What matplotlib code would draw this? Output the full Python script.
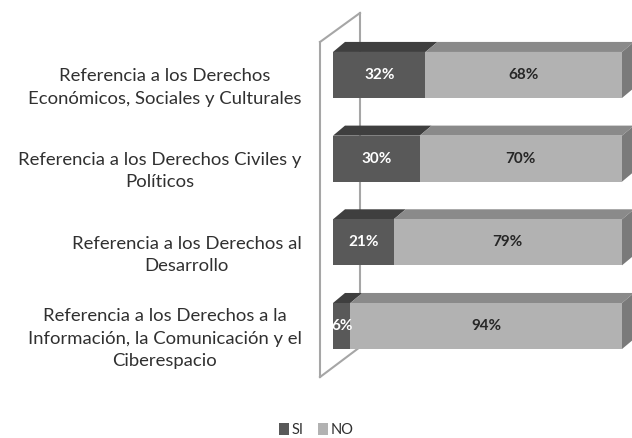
import matplotlib
matplotlib.use("Agg")
import matplotlib.pyplot as plt
from matplotlib.patches import Polygon
from matplotlib.lines import Line2D

categories = [
    "Referencia a los Derechos\nEconómicos, Sociales y Culturales",
    "Referencia a los Derechos Civiles y\nPolíticos",
    "Referencia a los Derechos al\nDesarrollo",
    "Referencia a los Derechos a la\nInformación, la Comunicación y el\nCiberespacio",
]
si_values = [32, 30, 21, 6]
no_values = [68, 70, 79, 94]
series_names = ["SI", "NO"]

plt.rcParams['font.family'] = ['Lato', 'DejaVu Sans']

W, H = 632, 438
fig = plt.figure(figsize=(W / 100, H / 100), dpi=100)
# axes: x 0..100 -> px 333..622 ; y area px 0..400
ax_left, ax_right = 333, 622
ax = fig.add_axes([ax_left / W, (H - 400) / H, (ax_right - ax_left) / W, 400 / H])
ax.set_xlim(0, 100)
ax.set_ylim(-0.884, 3.896)
ax.axis("off")

n = len(categories)
pos = [n - 1 - i for i in range(n)]
bar_h = 0.55
dx = 4.15   # depth offset in x data units
dy = 0.12   # depth offset in y data units

front_cols = ["#595959", "#b2b2b2"]
top_cols = ["#3f3f3f", "#8a8a8a"]
side_col = "#7a7a7a"
label_cols = ["white", "#262626"]

# side wall (drawn behind bars)
wall_col = "#a6a6a6"
wx0, wx1 = -4.5, 9.34
ax.add_line(Line2D([wx1, wx1], [-0.251, 3.741], color=wall_col, lw=1.5, zorder=0, clip_on=False))
ax.add_line(Line2D([wx0, wx1], [3.394, 3.741], color=wall_col, lw=1.5, zorder=0, clip_on=False))
ax.add_line(Line2D([wx0, wx0], [-0.61, 3.394], color=wall_col, lw=1.5, zorder=0, clip_on=False))
ax.add_line(Line2D([wx0, wx1], [-0.61, -0.251], color=wall_col, lw=1.5, zorder=0, clip_on=False))

si_bars = ax.barh(pos, si_values, height=bar_h, color=front_cols[0], zorder=3, label=series_names[0])
no_bars = ax.barh(pos, no_values, left=si_values, height=bar_h, color=front_cols[1], zorder=3, label=series_names[1])

for k, bars in enumerate([si_bars, no_bars]):
    for b in bars:
        x0, y0, w, h = b.get_x(), b.get_y(), b.get_width(), b.get_height()
        x1, y1 = x0 + w, y0 + h
        top = Polygon([(x0, y1), (x1, y1), (x1 + dx, y1 + dy), (x0 + dx, y1 + dy)],
                      closed=True, facecolor=top_cols[k], edgecolor="none", zorder=2, clip_on=False)
        ax.add_patch(top)
        if k == 1:
            side = Polygon([(x1, y0), (x1 + dx, y0 + dy), (x1 + dx, y1 + dy), (x1, y1)],
                           closed=True, facecolor=side_col, edgecolor="none", zorder=2, clip_on=False)
            ax.add_patch(side)
        ax.text(x0 + w / 2, y0 + h / 2, f"{int(round(w))}%", ha="center", va="center",
                fontsize=11, fontweight="bold", color=label_cols[k], zorder=5)

# category labels
for p, c in zip(pos, categories):
    ax.text(-10.8, p - 0.15, c, ha="right", va="center", multialignment="center",
            fontsize=13.3, color="#303030", linespacing=1.5, transform=ax.transData, clip_on=False)

leg = fig.legend(handles=[si_bars, no_bars], labels=series_names, loc="center",
                 bbox_to_anchor=(316 / W, 1 - 430 / H), ncol=2, frameon=False,
                 fontsize=10.5, handlelength=0.7, handleheight=0.8, handletextpad=0.15,
                 columnspacing=1.0)
for t in leg.get_texts():
    t.set_color("#303030")

fig.savefig("out.png", dpi=100, facecolor="white")
